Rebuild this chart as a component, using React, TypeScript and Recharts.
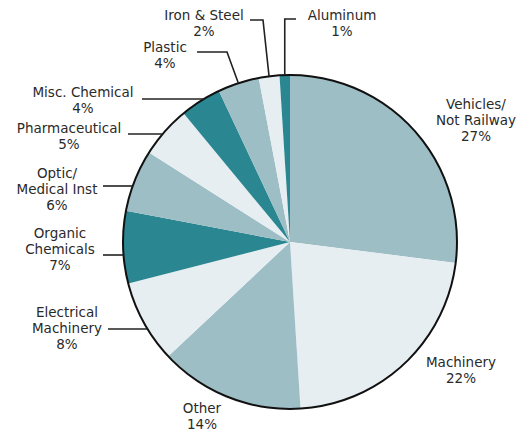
import React from "react";
import { PieChart, Pie, Cell } from "recharts";

const categories = [
  "Vehicles/\nNot Railway",
  "Machinery",
  "Other",
  "Electrical\nMachinery",
  "Organic\nChemicals",
  "Optic/\nMedical Inst",
  "Pharmaceutical",
  "Misc. Chemical",
  "Plastic",
  "Iron & Steel",
  "Aluminum",
];
const shares = [27, 22, 14, 8, 7, 6, 5, 4, 4, 2, 1];
const percentLabels = ["27%", "22%", "14%", "8%", "7%", "6%", "5%", "4%", "4%", "2%", "1%"];

const MID = "#9dbec5";
const LIGHT = "#e6eef1";
const DARK = "#2a8690";
const sliceColors = [MID, LIGHT, MID, LIGHT, DARK, MID, LIGHT, DARK, MID, LIGHT, DARK];

// label placement relative to the pie centre
type Lay = { tx: number; ty: number; kind?: "h" | "e" | "v"; lx?: number; ly?: number; ex?: number };
const labelLayout: Lay[] = [
  { tx: 186, ty: -138 },
  { tx: 171, ty: 120 },
  { tx: -88, ty: 166 },
  { tx: -223, ty: 70, kind: "h", lx: -182, ly: 87 },
  { tx: -230, ty: -9, kind: "h", lx: -187, ly: 13 },
  { tx: -233, ty: -69, kind: "h", lx: -187, ly: -56 },
  { tx: -221, ty: -114, kind: "h", lx: -162, ly: -108 },
  { tx: -207, ty: -150, kind: "h", lx: -148, ly: -143 },
  { tx: -125, ty: -195, kind: "e", lx: -93, ly: -190, ex: -63 },
  { tx: -86, ty: -227, kind: "e", lx: -40, ly: -222, ex: -27 },
  { tx: 52, ty: -227, kind: "v", lx: 6, ly: -223 },
];

const data = categories.map((c, i) => ({ name: c, value: shares[i], pct: percentLabels[i] }));
const ring = [{ name: "ring", value: 1 }];

const LINE_H = 16;
const FONT_SIZE = 13.5;
const RAD = Math.PI / 180;

const renderLabel = (props: any) => {
  const { cx, cy, midAngle, outerRadius, index } = props;
  const lay = labelLayout[index];
  const lines = [...categories[index].split("\n"), percentLabels[index]];
  let path: string | null = null;
  if (lay.kind === "h") {
    const y = cy + (lay.ly as number);
    const dy = y - cy;
    const x = cx - Math.sqrt(Math.max(0, outerRadius * outerRadius - dy * dy));
    path = `M${cx + (lay.lx as number)},${y} L${x},${y}`;
  } else if (lay.kind === "e" || lay.kind === "v") {
    const edgeX = cx + outerRadius * Math.cos(midAngle * RAD);
    const edgeY = cy - outerRadius * Math.sin(midAngle * RAD);
    const y = cy + (lay.ly as number);
    const elbowX = lay.kind === "v" ? edgeX : cx + (lay.ex as number);
    path = `M${cx + (lay.lx as number)},${y} L${elbowX},${y} L${edgeX},${edgeY}`;
  }
  return (
    <g key={`lab-${index}`}>
      {path && <path d={path} stroke="#222" strokeWidth={1.6} fill="none" />}
      {lines.map((l, k) => (
        <text
          key={k}
          x={cx + lay.tx}
          y={cy + lay.ty + k * LINE_H + FONT_SIZE * 0.36}
          textAnchor="middle"
          fill="#2a2a2a"
          fontFamily="'DejaVu Sans', sans-serif"
          fontSize={FONT_SIZE}
        >
          {l}
        </text>
      ))}
    </g>
  );
};

export default function App() {
  return (
    <div style={{ position: "absolute", left: 0, top: 0, width: 528, height: 432, background: "#fff" }}>
      <PieChart width={528} height={432} margin={{ top: 0, right: 0, bottom: 0, left: 0 }}>
        <Pie
          data={data}
          dataKey="value"
          nameKey="name"
          cx={290}
          cy={242}
          outerRadius={167}
          startAngle={90}
          endAngle={-270}
          stroke="none"
          label={renderLabel}
          labelLine={false}
          isAnimationActive={false}
        >
          {data.map((d, i) => (
            <Cell key={i} fill={sliceColors[i]} />
          ))}
        </Pie>
        <Pie
          data={ring}
          dataKey="value"
          cx={290}
          cy={242}
          innerRadius={166}
          outerRadius={168}
          startAngle={90}
          endAngle={-270}
          stroke="none"
          fill="#111"
          isAnimationActive={false}
        />
      </PieChart>
    </div>
  );
}
